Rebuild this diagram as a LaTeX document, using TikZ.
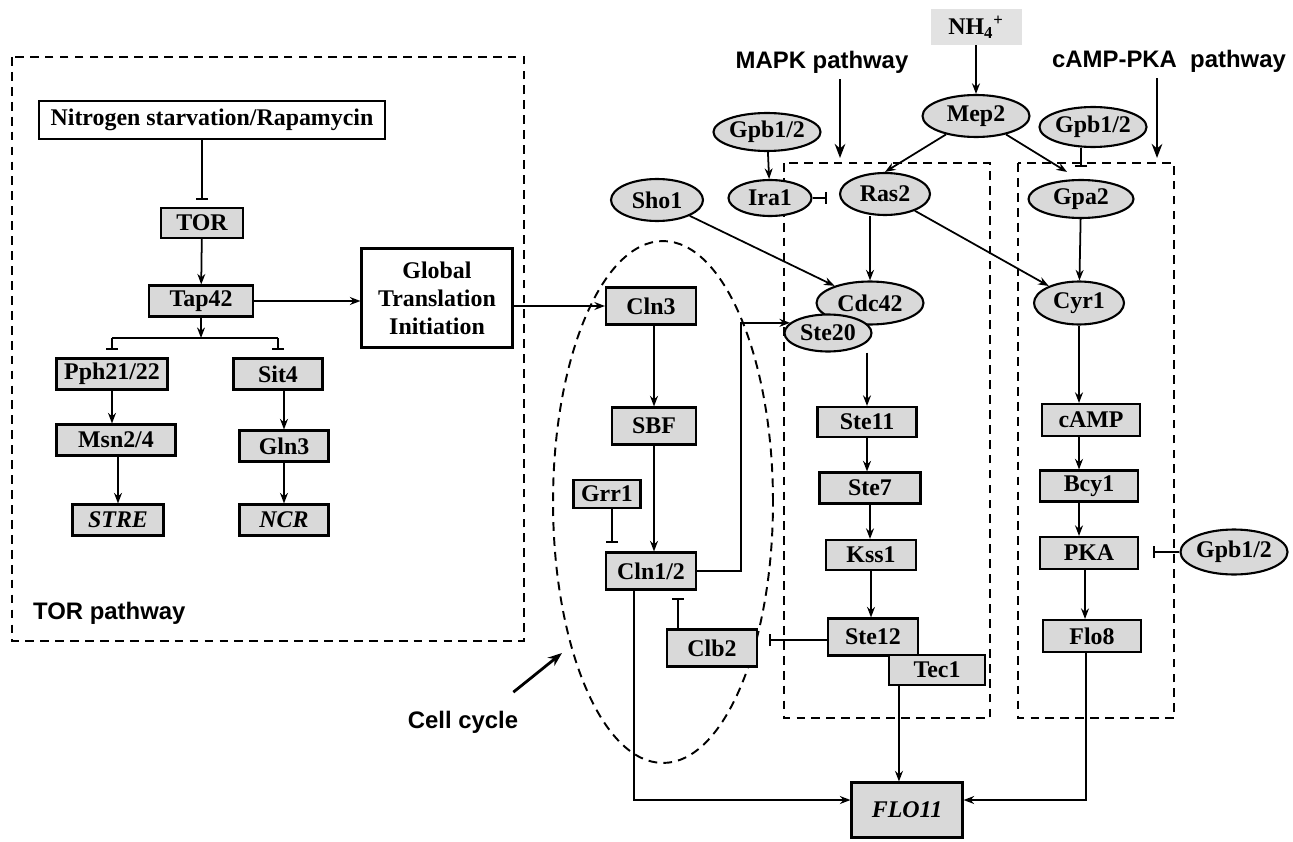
\documentclass[tikz,border=0pt]{standalone}
\usepackage{fontspec}
\setmainfont{Liberation Serif}
\setsansfont{Liberation Sans}
\usetikzlibrary{arrows.meta,positioning,shapes.geometric}
\definecolor{boxgray}{RGB}{217,217,217}
\definecolor{iongray}{RGB}{226,226,226}

\begin{document}
\begin{tikzpicture}[x=0.02cm, y=-0.02cm,
    every node/.style={font=\fontsize{13.6}{16}\selectfont\bfseries},
    gbox/.style={draw, line width=1.2pt, fill=boxgray, minimum height=0.62cm, inner sep=1pt},
    wbox/.style={draw, line width=1.2pt, fill=white, inner sep=2pt},
    prot/.style={ellipse, draw, line width=1.2pt, fill=boxgray, inner sep=0pt},
    lbl/.style={font=\fontsize{13.6}{16}\selectfont\sffamily\bfseries},
    act/.style={line width=1pt, -{Stealth[length=6pt,width=4.5pt]}},
    inh/.style={line width=1pt, -{Bar[width=7pt,line width=1.1pt]}, shorten >=4pt},
    big/.style={line width=1.6pt, -{Stealth[length=8pt,width=6pt]}},
    region/.style={line width=1.1pt, dash pattern=on 5pt off 3.5pt}]
    \useasboundingbox (0,0) rectangle (1293,841);
    % Dashed regions
    \draw[region] (12,57) rectangle (524,641);
    \draw[region] (784,163) rectangle (990,718);
    \draw[region] (1018,163) rectangle (1174,718);
    \draw[region] (663,502) ellipse [x radius=2.2cm, y radius=5.22cm];
    % Region labels
    \node[lbl, anchor=west] (torlbl) at (27,613) {TOR pathway};
    \node[lbl] (mapklbl) at (822,62) {MAPK pathway};
    \node[lbl] (camplbl) at (1169,61) {cAMP-PKA\ \ pathway};
    \node[lbl] (celllbl) at (463,722) {Cell cycle};
    \coordinate (mapktip) at (840,158);
    \coordinate (camptip) at (1157,158);
    \coordinate (celltip) at (562,653);
    % TOR pathway
    \node[wbox, minimum width=6.92cm, minimum height=0.76cm] (nitro) at (212,120) {Nitrogen starvation/Rapamycin};
    \node[gbox, minimum width=1.64cm, minimum height=0.6cm] (tor) at (202,223) {TOR};
    \node[gbox, minimum width=2.08cm] (tap) at (201,301) {Tap42};
    \node[wbox, minimum width=3.02cm, minimum height=1.98cm, align=center] (glob) at (437,298) {Global\\Translation\\Initiation};
    \node[gbox, minimum width=2.22cm] (pph) at (112,374) {Pph21/22};
    \node[gbox, minimum width=1.78cm] (sit) at (278,374) {Sit4};
    \node[gbox, minimum width=2.38cm] (msn) at (116,440) {Msn2/4};
    \node[gbox, minimum width=1.78cm] (gln) at (284,446) {Gln3};
    \node[gbox, minimum width=1.82cm] (stre) at (118,520) {\itshape STRE};
    \node[gbox, minimum width=1.78cm] (ncr) at (284,520) {\itshape NCR};
    \coordinate (split) at (201,338);
    % Cell cycle
    \node[gbox, minimum width=1.8cm, minimum height=0.74cm] (cln3) at (651,306) {Cln3};
    \node[gbox, minimum width=1.68cm, minimum height=0.74cm] (sbf) at (654,426) {SBF};
    \node[gbox, minimum width=1.34cm, minimum height=0.56cm] (grr) at (607,494) {Grr1};
    \node[gbox, minimum width=1.8cm, minimum height=0.74cm] (cln12) at (651,571) {Cln1/2};
    \node[gbox, minimum width=1.8cm, minimum height=0.74cm] (clb) at (712,648) {Clb2};
    % MAPK pathway
    \node[prot, minimum width=1.84cm, minimum height=0.76cm] (gpbA) at (767,132) {Gpb1/2};
    \node[prot, minimum width=1.66cm, minimum height=0.72cm] (ira) at (770,198) {Ira1};
    \node[prot, minimum width=1.8cm, minimum height=0.84cm] (ras) at (885,194) {Ras2};
    \node[prot, minimum width=1.84cm, minimum height=0.84cm] (sho) at (657,200) {Sho1};
    \node[prot, minimum width=2.14cm, minimum height=0.86cm] (cdc) at (870,303) {Cdc42};
    \node[prot, minimum width=1.74cm, minimum height=0.74cm] (ste20) at (828,333) {Ste20};
    \node[gbox, minimum width=1.98cm, minimum height=0.6cm] (ste11) at (867,422) {Ste11};
    \node[gbox, minimum width=2.02cm] (ste7) at (870,488) {Ste7};
    \node[gbox, minimum width=1.8cm, minimum height=0.6cm] (kss) at (871,555) {Kss1};
    \node[gbox, minimum width=1.8cm, minimum height=0.74cm] (ste12) at (873,637) {Ste12};
    \node[gbox, minimum width=1.92cm, minimum height=0.6cm] (tec) at (937,670) {Tec1};
    % cAMP-PKA pathway
    \node[fill=iongray, minimum width=1.82cm, minimum height=0.72cm] (nh) at (976,27) {NH\textsubscript{4}\textsuperscript{+}};
    \node[prot, minimum width=2.14cm, minimum height=0.84cm] (mep) at (976,116) {Mep2};
    \node[prot, minimum width=1.94cm, minimum height=0.8cm] (gpbB) at (1093,127) {Gpb1/2};
    \node[prot, minimum width=2.1cm, minimum height=0.76cm] (gpa) at (1081,199) {Gpa2};
    \node[prot, minimum width=1.8cm, minimum height=0.86cm] (cyr) at (1079,303) {Cyr1};
    \node[gbox, minimum width=1.96cm, minimum height=0.64cm] (camp) at (1091,420) {cAMP};
    \node[gbox, minimum width=1.96cm] (bcy) at (1089,486) {Bcy1};
    \node[gbox, minimum width=1.96cm, minimum height=0.64cm] (pka) at (1089,553) {PKA};
    \node[prot, minimum width=1.98cm, minimum height=0.9cm] (gpbC) at (1234,552) {Gpb1/2};
    \node[gbox, minimum width=1.96cm, minimum height=0.64cm] (flo8) at (1092,636) {Flo8};
    \node[gbox, minimum width=2.22cm, minimum height=1.1cm] (flo11) at (907,810) {\itshape FLO11};
    % TOR connectors
    \draw[inh] (nitro.south -| tor) -- (tor.north);
    \draw[act] (tor) -- (tap);
    \draw[act] (tap) -- (split);
    \draw[line width=1pt] (pph.north |- split) -- (sit.north |- split);
    \draw[inh] (pph.north |- split) -- (pph.north);
    \draw[inh] (sit.north |- split) -- (sit.north);
    \draw[act] (pph.south) -- (pph.south |- msn.north);
    \draw[act] (msn.south -| stre) -- (stre.north);
    \draw[act] (sit.south -| gln) -- (gln.north);
    \draw[act] (gln) -- (ncr);
    \draw[act] (tap) -- (tap -| glob.west);
    \draw[act] (glob.east |- cln3) -- (cln3.west);
    % Cell cycle connectors
    \draw[act] (cln3.south -| sbf) -- (sbf.north);
    \draw[act] (sbf) -- (sbf |- cln12.north);
    \draw[inh, shorten >=5pt] ([xshift=0.1cm]grr.south) -- ([xshift=0.1cm]grr.south |- cln12.north);
    \draw[act] (cln12.east) -- ++(44,0) |- (ste20.165);
    \draw[inh, shorten >=4pt] ([xshift=0.24cm]clb.north west) -- ([xshift=0.24cm]clb.north west |- cln12.south);
    \draw[inh, shorten >=6pt] ([yshift=-0.06cm]ste12.west) -- ([yshift=-0.06cm]ste12.west -| clb.east);
    % MAPK connectors
    \draw[act] (sho) -- (cdc);
    \draw[act] (ras.south -| cdc) -- (cdc.north);
    \draw[act] (gpbA) -- (ira);
    \draw[inh, shorten >=7pt] (ira.east) -- (ira.east -| ras.west);
    \draw[act] (mep) -- (ras.north);
    \draw[act] (ste20.south -| ste11) -- (ste11.north);
    \draw[act] (ste11) -- (ste11 |- ste7.north);
    \draw[act] (ste7) -- (ste7 |- kss.north);
    \draw[act] (kss) -- (kss |- ste12.north);
    \draw[act] ([xshift=0.22cm]tec.south west) -- ([xshift=0.22cm]tec.south west |- flo11.north);
    \draw[act] ([xshift=0.58cm]cln12.south west) |- ([yshift=0.2cm]flo11.west);
    % cAMP-PKA connectors
    \draw[act] (nh) -- (mep);
    \draw[act] (mep) -- ([xshift=-0.28cm, yshift=0.14cm]gpa.north);
    \draw[inh, shorten >=7pt] (gpbB.south -| gpa) -- (gpa.north);
    \draw[act] (gpa) -- (cyr);
    \draw[act] (ras) -- (cyr);
    \draw[act] (cyr) -- (cyr |- camp.north);
    \draw[act] (cyr |- camp.south) -- (cyr |- bcy.north);
    \draw[act] (cyr |- bcy.south) -- (cyr |- pka.north);
    \draw[act] ([xshift=-0.08cm]pka.south) -- ([xshift=-0.08cm]pka.south |- flo8.north);
    \draw[inh, shorten >=8pt] (gpbC.west) -- (gpbC.west -| pka.east);
    \draw[act] ([xshift=-0.12cm]flo8.south) |- ([yshift=0.2cm]flo11.east);
    % Pathway arrows
    \draw[big] (mapklbl.south -| mapktip) -- (mapktip);
    \draw[big] (camplbl.south -| camptip) -- (camptip);
    \draw[big] ([shift={(-0.22cm,0.25cm)}]celllbl.north east) -- (celltip);
\end{tikzpicture}
\end{document}
